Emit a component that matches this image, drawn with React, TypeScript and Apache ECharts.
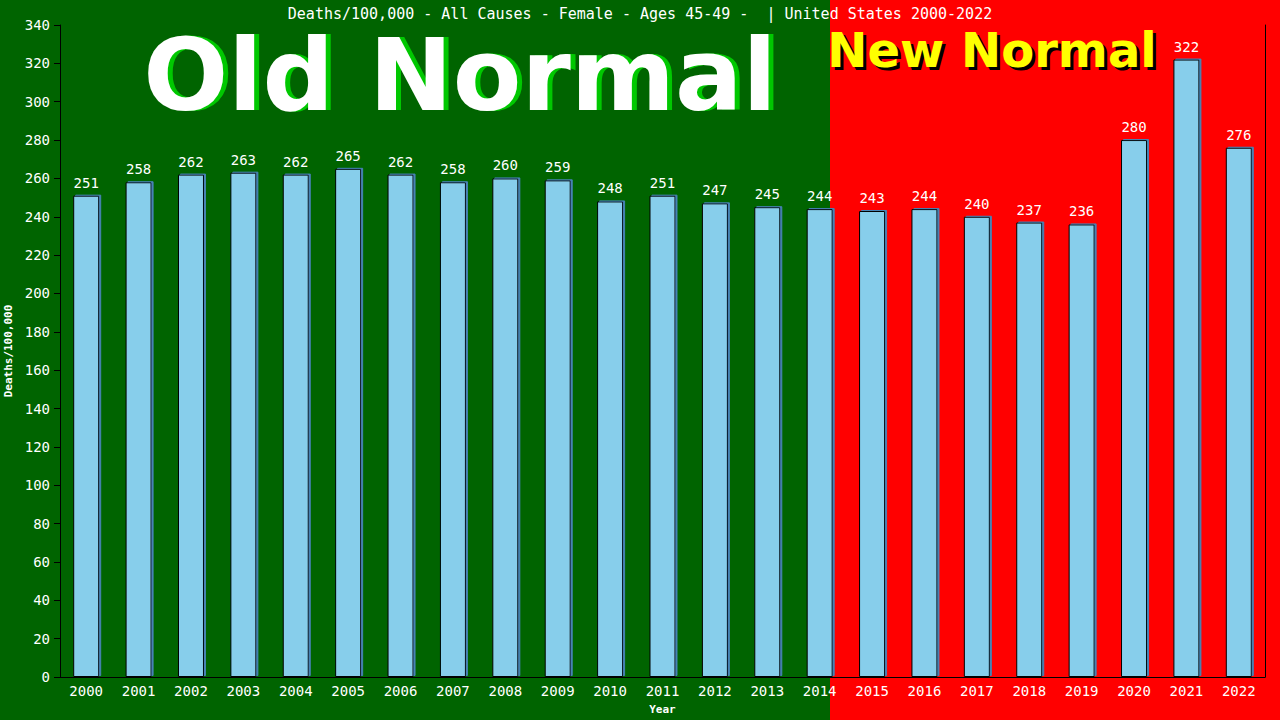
import { useEffect, useRef } from "react";
import * as echarts from "echarts";

const years = [
  "2000", "2001", "2002", "2003", "2004", "2005", "2006", "2007", "2008", "2009", "2010", "2011",
  "2012", "2013", "2014", "2015", "2016", "2017", "2018", "2019", "2020", "2021", "2022",
];
const deaths = [
  251, 258, 262, 263, 262, 265, 262, 258, 260, 259, 248, 251, 247, 245, 244, 243, 244, 240, 237,
  236, 280, 322, 276,
];
const title = "Deaths/100,000 - All Causes - Female - Ages 45-49 -  | United States 2000-2022";

const mono = "'DejaVu Sans Mono', monospace";

export default function App() {
  const chartRef = useRef<HTMLDivElement>(null);

  useEffect(() => {
    if (!chartRef.current) return;
    const chart = echarts.init(chartRef.current, null, { renderer: "svg" });

    chart.setOption({
      animation: false,
      backgroundColor: "#006400",
      title: {
        text: title,
        left: "center",
        top: 1,
        textStyle: { color: "#fff", fontFamily: mono, fontSize: 15, fontWeight: "normal" },
      },
      graphic: [
        { type: "rect", z: -10, shape: { x: 0, y: 0, width: 830, height: 720 }, style: { fill: "#006400" } },
        { type: "rect", z: -10, shape: { x: 830, y: 0, width: 450, height: 720 }, style: { fill: "#ff0000" } },
        {
          type: "text", z: -5, x: 465, y: 75,
          style: { text: "Old Normal", fill: "#00c800", font: "bold 100px 'DejaVu Sans'", lineHeight: 78, textAlign: "center", textVerticalAlign: "middle" },
        },
        {
          type: "text", z: -4, x: 460, y: 75,
          style: { text: "Old Normal", fill: "#ffffff", font: "bold 100px 'DejaVu Sans'", lineHeight: 78, textAlign: "center", textVerticalAlign: "middle" },
        },
        {
          type: "text", z: -5, x: 995, y: 53,
          style: { text: "New Normal", fill: "#000000", font: "bold 48px 'DejaVu Sans'", lineHeight: 38, textAlign: "center", textVerticalAlign: "middle" },
        },
        {
          type: "text", z: -4, x: 992, y: 50,
          style: { text: "New Normal", fill: "#ffff00", font: "bold 48px 'DejaVu Sans'", lineHeight: 38, textAlign: "center", textVerticalAlign: "middle" },
        },
      ],
      grid: { left: 60, right: 15, top: 25, bottom: 43, outerBoundsMode: "none", containLabel: false },
      xAxis: {
        type: "category",
        data: years,
        name: "Year",
        nameLocation: "middle",
        nameGap: 27,
        nameTextStyle: { color: "#fff", fontFamily: mono, fontSize: 11, fontWeight: "bold" },
        axisLine: { lineStyle: { color: "#000", width: 1 } },
        axisTick: { show: false },
        axisLabel: { color: "#fff", fontFamily: mono, fontSize: 14, margin: 7 },
      },
      yAxis: [
        {
          type: "value",
          min: 0,
          max: 340,
          interval: 20,
          name: "Deaths/100,000",
          nameLocation: "middle",
          nameGap: 43,
          nameTextStyle: { color: "#fff", fontFamily: mono, fontSize: 11, fontWeight: "bold" },
          axisLine: { show: true, lineStyle: { color: "#000", width: 1 } },
          axisTick: { show: true, length: 6, lineStyle: { color: "#000" } },
          axisLabel: { color: "#fff", fontFamily: mono, fontSize: 14, margin: 10 },
          splitLine: { show: false },
        },
        {
          type: "value",
          min: 0,
          max: 340,
          interval: 20,
          position: "right",
          axisLine: { show: true, lineStyle: { color: "#000", width: 1 } },
          axisTick: { show: false },
          axisLabel: { show: false },
          splitLine: { show: false },
        },
      ],
      series: [
        {
          type: "bar",
          data: deaths,
          barWidth: 26,
          itemStyle: {
            color: "#87ceeb",
            borderColor: "#000",
            borderWidth: 1,
            shadowColor: "#4682b4",
            shadowOffsetX: 2,
            shadowOffsetY: -1,
            shadowBlur: 0,
          },
          label: {
            show: true,
            position: "top",
            distance: 6,
            color: "#fff",
            fontFamily: mono,
            fontSize: 14,
          },
        },
      ],
    });

    return () => chart.dispose();
  }, []);

  return (
    <div
      ref={chartRef}
      style={{ position: "fixed", left: 0, top: 0, width: 1280, height: 720 }}
    />
  );
}
